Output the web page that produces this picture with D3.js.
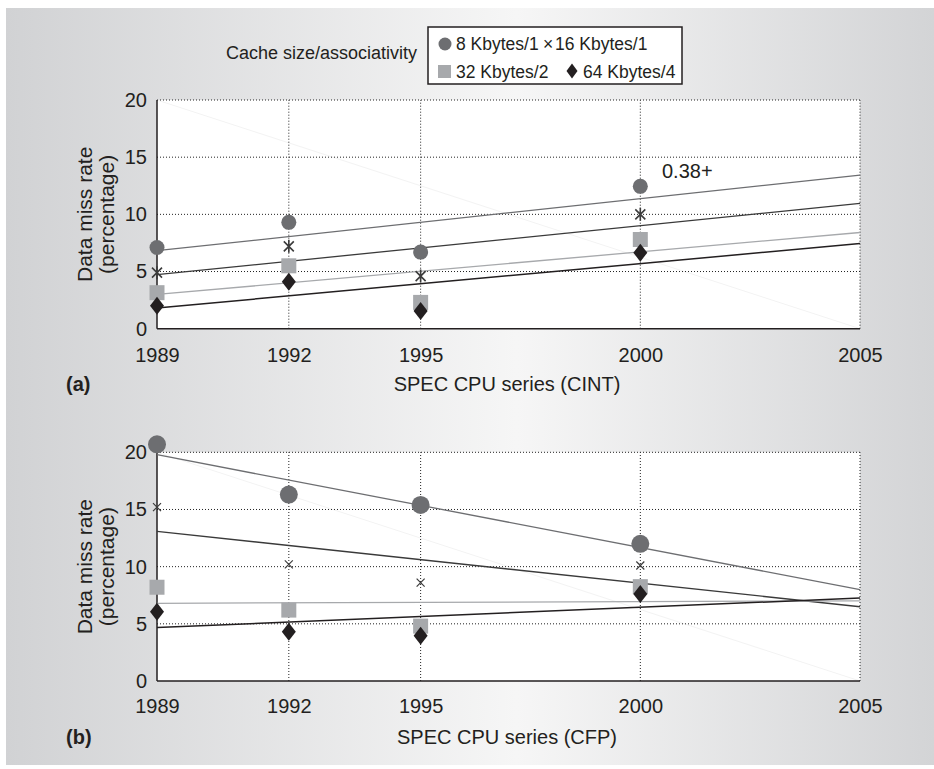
<!DOCTYPE html>
<html>
<head>
<meta charset="utf-8">
<script src="https://cdn.jsdelivr.net/npm/d3@7"></script>
<style>
  body { margin: 0; background: #fff; }
  svg { display: block; font-family: "Liberation Sans", Arial, sans-serif; }
</style>
</head>
<body>
<svg id="chart" width="934" height="769"></svg>
<script>
// data
const years = [1989, 1992, 1995, 2000];
const xTicks = [1989, 1992, 1995, 2000, 2005];
const yTicks = [0, 5, 10, 15, 20];

const cint8k1 = [7.1, 9.3, 6.7, 12.45];
const cint16k1 = [4.9, 7.2, 4.6, 10.0];
const cint32k2 = [3.15, 5.5, 2.3, 7.8];
const cint64k4 = [2.0, 4.1, 1.55, 6.65];

const cfp8k1 = [20.7, 16.3, 15.4, 12.0];
const cfp16k1 = [15.2, 10.2, 8.6, 10.1];
const cfp32k2 = [8.2, 6.2, 4.8, 8.25];
const cfp64k4 = [6.06, 4.3, 3.96, 7.6];

const legendLabels = ["8 Kbytes/1", "16 Kbytes/1", "32 Kbytes/2", "64 Kbytes/4"];

const circleColor = "#6d6e71";
const starColor = "#3c3c3c";
const squareColor = "#a7a9ac";
const diamondColor = "#231f20";

const svg = d3.select("#chart");

// background gradient
const grad = svg.append("defs").append("linearGradient").attr("id", "bg");
grad.append("stop").attr("offset", "0%").attr("stop-color", "#d1d2d4");
grad.append("stop").attr("offset", "55%").attr("stop-color", "#f6f6f6");
grad.append("stop").attr("offset", "100%").attr("stop-color", "#d3d4d6");
svg.append("rect").attr("x", 6).attr("y", 8).attr("width", 928).attr("height", 757)
  .attr("fill", "url(#bg)");

const x = d3.scaleLinear().domain([1989, 2005]).range([157, 860]);

// least squares fit for the trend lines
function fit(ys) {
  const mx = d3.mean(years), my = d3.mean(ys);
  const sxy = d3.sum(years, (v, i) => (v - mx) * (ys[i] - my));
  const sxx = d3.sum(years, v => (v - mx) * (v - mx));
  const b = sxy / sxx;
  return t => my + b * (t - mx);
}

const starPath = "M-5,-5L5,5M-5,5L5,-5M0,-6.5L0,6.5";
const crossPath = "M-4,-4L4,4M-4,4L4,-4";

function panel(top, bottom, series, opts) {
  const y = d3.scaleLinear().domain([0, 20]).range([bottom, top]);
  const g = svg.append("g");

  g.append("rect").attr("x", x(1989)).attr("y", y(20))
    .attr("width", x(2005) - x(1989)).attr("height", y(0) - y(20)).attr("fill", "#fff");

  // faint diagonal ghost line
  g.append("line").attr("x1", x(1989)).attr("y1", y(20)).attr("x2", x(2005)).attr("y2", y(0))
    .attr("stroke", "#f3f3f3").attr("stroke-width", 1);

  // dotted grid
  g.selectAll(".hgrid").data(yTicks.slice(1)).enter().append("line")
    .attr("x1", x(1989)).attr("x2", x(2005))
    .attr("y1", d => y(d)).attr("y2", d => y(d))
    .attr("stroke", "#222").attr("stroke-width", 1).attr("stroke-dasharray", "1,2");
  g.selectAll(".vgrid").data(xTicks.slice(1)).enter().append("line")
    .attr("x1", d => x(d)).attr("x2", d => x(d))
    .attr("y1", y(0)).attr("y2", y(20))
    .attr("stroke", "#222").attr("stroke-width", 1).attr("stroke-dasharray", "1,2");

  // solid axes
  g.append("line").attr("x1", x(1989)).attr("x2", x(2005)).attr("y1", y(0)).attr("y2", y(0))
    .attr("stroke", "#231f20").attr("stroke-width", 1.5);
  g.append("line").attr("x1", x(1989)).attr("x2", x(1989)).attr("y1", y(0)).attr("y2", y(20))
    .attr("stroke", "#231f20").attr("stroke-width", 1.5);

  // tick labels
  const ya = g.append("g").attr("transform", `translate(${x(1989)},0)`)
    .call(d3.axisLeft(y).tickValues(yTicks).tickSize(0).tickPadding(10));
  const xa = g.append("g").attr("transform", `translate(0,${y(0)})`)
    .call(d3.axisBottom(x).tickValues(xTicks).tickFormat(d3.format("d")).tickSize(0).tickPadding(opts.xPad));
  [ya, xa].forEach(a => {
    a.select(".domain").remove();
    a.selectAll("text").attr("font-size", 20).attr("fill", "#231f20")
      .attr("font-family", '"Liberation Sans", Arial, sans-serif');
  });

  // trend lines
  series.forEach(s => {
    const f = fit(s.values);
    g.append("line").attr("x1", x(1989)).attr("y1", y(f(1989)))
      .attr("x2", x(2005)).attr("y2", y(f(2005)))
      .attr("stroke", s.lineColor).attr("stroke-width", s.lineWidth);
  });

  // markers
  series.forEach(s => {
    const pts = g.selectAll(null).data(s.values).enter();
    if (s.shape === "circle") {
      pts.append("circle").attr("cx", (d, i) => x(years[i])).attr("cy", d => y(d))
        .attr("r", opts.circleR).attr("fill", circleColor);
    } else if (s.shape === "square") {
      pts.append("rect").attr("x", (d, i) => x(years[i]) - 7.5).attr("y", d => y(d) - 7.5)
        .attr("width", 15).attr("height", 15).attr("fill", squareColor);
    } else if (s.shape === "diamond") {
      pts.append("path").attr("transform", (d, i) => `translate(${x(years[i])},${y(d)})`)
        .attr("d", "M0,-9L7,0L0,9L-7,0Z").attr("fill", diamondColor);
    } else {
      pts.append("path").attr("transform", (d, i) => `translate(${x(years[i])},${y(d)})`)
        .attr("d", s.shape === "star" ? starPath : crossPath)
        .attr("fill", "none").attr("stroke", starColor).attr("stroke-width", s.shape === "star" ? 1.6 : 1.2);
    }
  });

  // axis titles
  const cy = (top + bottom) / 2;
  const yt = g.append("text").attr("transform", `translate(92,${cy}) rotate(-90)`)
    .attr("text-anchor", "middle").attr("font-size", 21).attr("fill", "#231f20");
  yt.append("tspan").attr("x", 0).attr("y", 0).text("Data miss rate");
  yt.append("tspan").attr("x", 0).attr("y", 22).text("(percentage)");

  g.append("text").attr("x", 507).attr("y", opts.titleY).attr("text-anchor", "middle")
    .attr("font-size", 20).attr("fill", "#231f20").text(opts.title);
  g.append("text").attr("x", 66).attr("y", opts.titleY).attr("font-size", 20)
    .attr("font-weight", "bold").attr("fill", "#231f20").text(opts.tag);
  return y;
}

panel(100, 328.7, [
  { values: cint8k1, shape: "circle", lineColor: "#6d6e71", lineWidth: 1.3 },
  { values: cint16k1, shape: "star", lineColor: "#3a3a3a", lineWidth: 1.3 },
  { values: cint32k2, shape: "square", lineColor: "#a7a9ac", lineWidth: 1.3 },
  { values: cint64k4, shape: "diamond", lineColor: "#231f20", lineWidth: 1.5 }
], { circleR: 7.5, xPad: 19, title: "SPEC CPU series (CINT)", tag: "(a)", titleY: 391 });

panel(452.3, 681, [
  { values: cfp8k1, shape: "circle", lineColor: "#6d6e71", lineWidth: 1.3 },
  { values: cfp16k1, shape: "cross", lineColor: "#3a3a3a", lineWidth: 1.3 },
  { values: cfp32k2, shape: "square", lineColor: "#a7a9ac", lineWidth: 1.3 },
  { values: cfp64k4, shape: "diamond", lineColor: "#231f20", lineWidth: 1.5 }
], { circleR: 9, xPad: 18, title: "SPEC CPU series (CFP)", tag: "(b)", titleY: 744 });

// annotation near the 2000 CINT point
svg.append("text").attr("x", 662).attr("y", 178).attr("font-size", 20)
  .attr("fill", "#231f20").text("0.38+");

// legend
svg.append("text").attr("x", 226).attr("y", 59).attr("font-size", 18)
  .attr("fill", "#231f20").text("Cache size/associativity");
const lg = svg.append("g").attr("font-size", 17.5).attr("fill", "#231f20");
lg.append("rect").attr("x", 428).attr("y", 27).attr("width", 254).attr("height", 57)
  .attr("fill", "#fff").attr("stroke", "#231f20").attr("stroke-width", 1.5);
lg.append("circle").attr("cx", 445).attr("cy", 44).attr("r", 6.5).attr("fill", circleColor);
lg.append("text").attr("x", 456).attr("y", 50).text(legendLabels[0]);
lg.append("text").attr("x", 543).attr("y", 50).text("\u00d7");
lg.append("text").attr("x", 555).attr("y", 50).text(legendLabels[1]);
lg.append("rect").attr("x", 438).attr("y", 65).attr("width", 13).attr("height", 13).attr("fill", squareColor);
lg.append("text").attr("x", 456).attr("y", 78).text(legendLabels[2]);
lg.append("path").attr("transform", "translate(572,71)").attr("d", "M0,-7.5L5.5,0L0,7.5L-5.5,0Z").attr("fill", diamondColor);
lg.append("text").attr("x", 583).attr("y", 78).text(legendLabels[3]);
</script>
</body>
</html>
